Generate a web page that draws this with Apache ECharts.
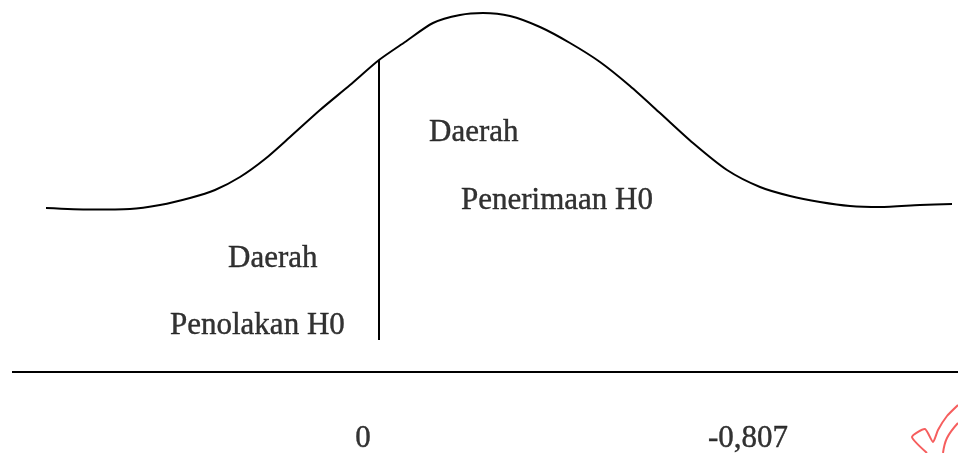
<!DOCTYPE html>
<html>
<head>
<meta charset="utf-8">
<script src="https://cdn.jsdelivr.net/npm/echarts@6/dist/echarts.min.js"></script>
<style>
  html, body { margin: 0; padding: 0; background: #fff; }
  #chart { width: 958px; height: 453px; }
</style>
</head>
<body>
<div id="chart"></div>
<script>
// Bell curve in canvas units (x to the right, height measured up from the bottom edge)
const curveX = [46, 90, 130, 160, 190, 215, 240, 265, 290, 320, 350, 379, 405, 433, 460, 483, 510, 540, 570, 600, 630, 660, 693, 727, 760, 790, 820, 850, 880, 920, 952];
const curveH = [245, 243.5, 244, 248, 255, 263, 276, 294, 316, 343, 368, 393, 411, 430, 438, 440, 437, 426, 410, 391, 367, 340, 310, 283, 266, 257, 251, 247, 246, 248, 249];

// Critical boundary (vertical) and the base line
const boundaryX = [379, 379];
const boundaryH = [393, 113];
const baseX = [12, 958];
const baseH = [81, 81];

// Region labels
const regionText = ['Daerah', 'Penerimaan H0', 'Daerah', 'Penolakan H0'];
const regionX = [429, 461, 228, 170];
const regionH = [320, 252, 194, 127];

// Values written under the base line
const tickText = ['0', '-0,807'];
const tickX = [363, 748];
const tickH = [14, 14];

const chart = echarts.init(document.getElementById('chart'));

const zip = (xs, ys) => xs.map((x, i) => [x, ys[i]]);
const font = '"Liberation Serif", "Times New Roman", serif';

const regionData = regionText.map((t, i) => ({
  value: [regionX[i], regionH[i]],
  label: { formatter: t, position: 'right', distance: 0, align: 'left' }
}));
const tickData = tickText.map((t, i) => ({
  value: [tickX[i], tickH[i]],
  label: { formatter: t, position: 'inside', align: 'center' }
}));

chart.setOption({
  animation: false,
  backgroundColor: '#ffffff',
  grid: { left: 0, right: 0, top: 0, bottom: 0 },
  xAxis: { type: 'value', min: 0, max: 958, show: false },
  yAxis: { type: 'value', min: 0, max: 453, show: false },
  series: [
    {
      type: 'line',
      data: zip(curveX, curveH),
      smooth: 0.25,
      symbol: 'none',
      lineStyle: { color: '#000', width: 2 }
    },
    {
      type: 'line',
      data: zip(boundaryX, boundaryH),
      symbol: 'none',
      lineStyle: { color: '#000', width: 2 }
    },
    {
      type: 'line',
      data: zip(baseX, baseH),
      symbol: 'none',
      lineStyle: { color: '#000', width: 2 }
    },
    {
      type: 'scatter',
      symbolSize: 0,
      data: regionData.concat(tickData),
      label: {
        show: true,
        color: '#000000',
        textBorderColor: '#000000',
        textBorderWidth: 0.4,
        fontFamily: font,
        fontSize: 31,
        fontWeight: 'normal',
        verticalAlign: 'middle'
      }
    }
  ],
  graphic: [
    {
      type: 'polyline',
      shape: { points: [[927, 453], [912, 437], [925, 429], [933, 442], [938, 430], [947, 416], [958, 405]], smooth: 0.2 },
      style: { stroke: '#f65e5e', lineWidth: 2, fill: null }
    },
    {
      type: 'polyline',
      shape: { points: [[943, 453], [947, 438], [958, 423]], smooth: 0.4 },
      style: { stroke: '#f65e5e', lineWidth: 2, fill: null }
    }
  ]
});
</script>
</body>
</html>
